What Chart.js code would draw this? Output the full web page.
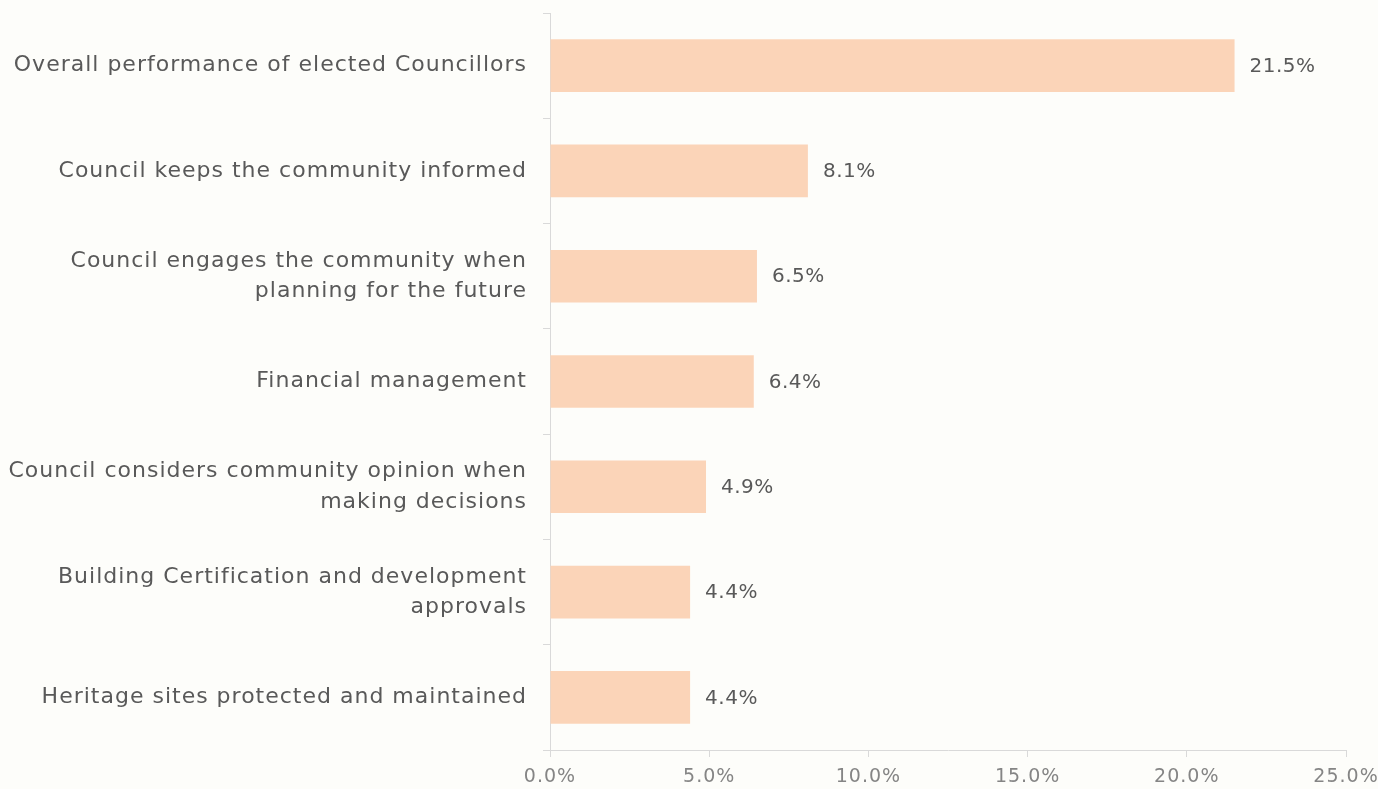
<!DOCTYPE html>
<html>
<head>
<meta charset="utf-8">
<script src="https://cdn.jsdelivr.net/npm/chart.js@4/dist/chart.umd.min.js"></script>
<style>
  html, body { margin: 0; padding: 0; background: #fdfdfa; }
  #wrap { width: 1378px; height: 789px; position: relative; }
</style>
</head>
<body>
<div id="wrap"><canvas id="c" width="1378" height="789"></canvas></div>
<script>
// Share of residents rating each service area
const categories = [
  "Overall performance of elected Councillors",
  "Council keeps the community informed",
  ["Council engages the community when", "planning for the future"],
  "Financial management",
  ["Council considers community opinion when", "making decisions"],
  ["Building Certification and development", "approvals"],
  "Heritage sites protected and maintained"
];
const shares = [21.5, 8.1, 6.5, 6.4, 4.9, 4.4, 4.4];
const axisMax = 25;
const axisStep = 5;

const FONT = "'DejaVu Sans', sans-serif";

// Slightly wider letter spacing for a rounder, airier look
const spacing = {
  id: 'spacing',
  beforeLayout(chart) { chart.ctx.letterSpacing = '1px'; },
  beforeDraw(chart) { chart.ctx.letterSpacing = '1px'; }
};

// Writes each bar's value just past its end
const valueLabels = {
  id: 'valueLabels',
  afterDatasetsDraw(chart) {
    const ctx = chart.ctx;
    const meta = chart.getDatasetMeta(0);
    ctx.save();
    ctx.letterSpacing = '0.5px';
    ctx.font = "20px " + FONT;
    ctx.fillStyle = '#595959';
    ctx.textAlign = 'left';
    ctx.textBaseline = 'middle';
    meta.data.forEach((bar, i) => {
      ctx.fillText(shares[i].toFixed(1) + '%', bar.x + 15, bar.y + 1);
    });
    ctx.restore();
  }
};

new Chart(document.getElementById('c'), {
  type: 'bar',
  data: {
    labels: categories,
    datasets: [{
      data: shares,
      backgroundColor: '#fbd4b8',
      borderWidth: 0,
      barPercentage: 0.5,
      categoryPercentage: 1.0
    }]
  },
  options: {
    indexAxis: 'y',
    responsive: false,
    animation: false,
    layout: { padding: { top: 13, right: 32, left: 0, bottom: 0 } },
    plugins: {
      legend: { display: false },
      tooltip: { enabled: false }
    },
    scales: {
      x: {
        min: 0,
        max: axisMax,
        ticks: {
          stepSize: axisStep,
          color: '#858585',
          font: { family: FONT, size: 19 },
          padding: 9,
          maxRotation: 0,
          callback: v => v.toFixed(1) + '%'
        },
        grid: { drawOnChartArea: false, drawTicks: true, tickLength: 7, color: '#d9d9d9' },
        border: { display: true, color: '#d9d9d9' },
        afterFit(scale) {
          scale.height = 39;
          scale.paddingLeft = 0;
          scale.paddingRight = 0;
        }
      },
      y: {
        ticks: {
          color: '#595959',
          font: { family: FONT, size: 22, lineHeight: 1.38 },
          padding: 16
        },
        grid: { drawOnChartArea: false, drawTicks: true, tickLength: 7, color: '#d9d9d9', offset: true },
        border: { display: true, color: '#d9d9d9' },
        afterFit(scale) {
          scale.width = 550;
          scale.paddingTop = 0;
          scale.paddingBottom = 0;
        }
      }
    }
  },
  plugins: [spacing, valueLabels]
});
</script>
</body>
</html>
